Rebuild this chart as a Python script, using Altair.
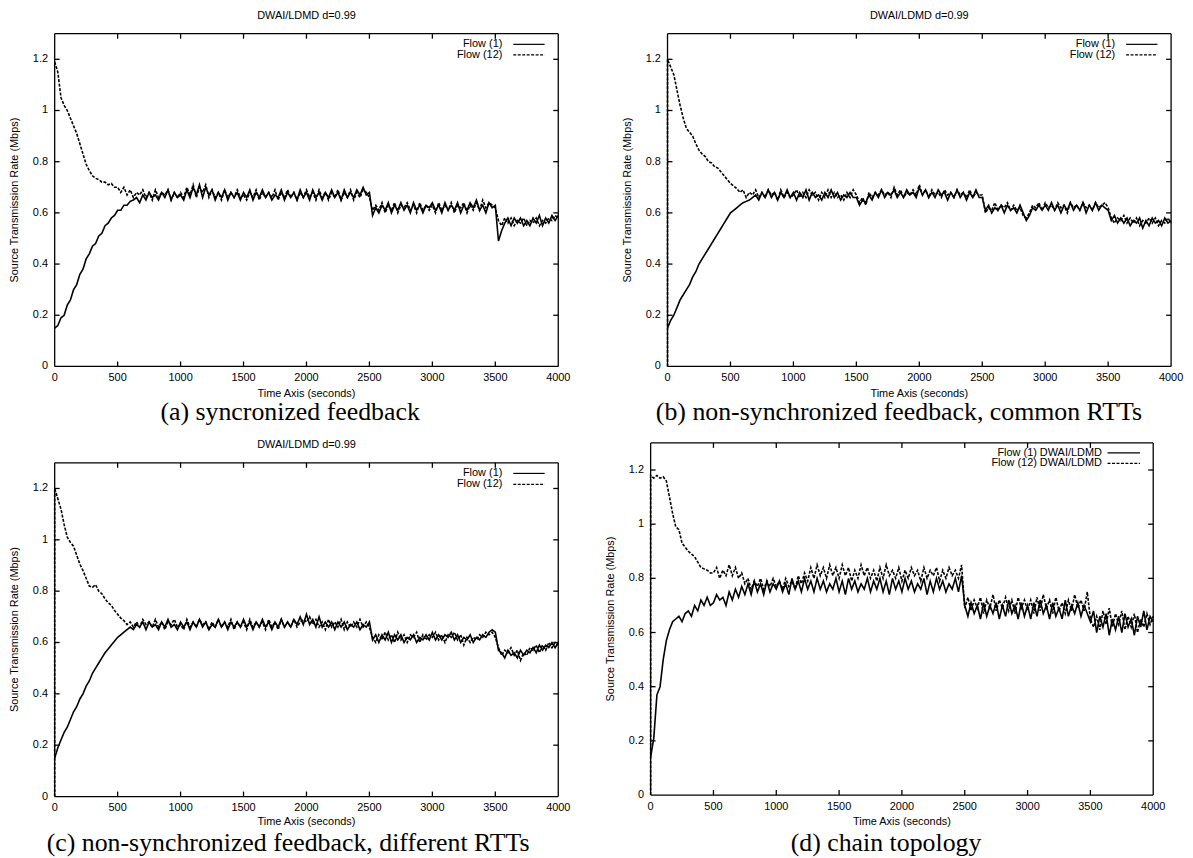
import altair as alt
import pandas as pd

# ---------------- data ----------------
T = list(range(0, 4001, 25))          # time axis samples (seconds)
X_TICKS = [0, 500, 1000, 1500, 2000, 2500, 3000, 3500, 4000]
X_TICK_LABELS = ["0", "500", "1000", "1500", "2000", "2500", "3000", "3500", "4000"]
Y_TICKS = [0, 0.2, 0.4, 0.6, 0.8, 1, 1.2]
Y_TICK_LABELS = ["0", "0.2", "0.4", "0.6", "0.8", "1", "1.2"]
X_MAX = 4000
Y_MAX = 1.3

# (a) syncronized feedback -- one row per 500 s
A_FLOW1 = [
    0.15, 0.16, 0.19, 0.20, 0.24, 0.26, 0.30, 0.32, 0.36, 0.38, 0.42, 0.44, 0.47, 0.48, 0.51, 0.52, 0.55, 0.56, 0.58, 0.59,
    0.61, 0.61, 0.63, 0.63, 0.645, 0.65, 0.66, 0.64, 0.67, 0.65, 0.68, 0.66, 0.67, 0.65, 0.68, 0.66, 0.69, 0.65, 0.68, 0.66,
    0.67, 0.65, 0.69, 0.66, 0.70, 0.67, 0.71, 0.66, 0.70, 0.67, 0.69, 0.65, 0.68, 0.66, 0.69, 0.65, 0.68, 0.66, 0.68, 0.65,
    0.68, 0.66, 0.69, 0.65, 0.68, 0.66, 0.69, 0.66, 0.68, 0.65, 0.67, 0.66, 0.69, 0.65, 0.68, 0.66, 0.68, 0.65, 0.69, 0.66,
    0.68, 0.65, 0.69, 0.66, 0.68, 0.65, 0.68, 0.66, 0.69, 0.66, 0.68, 0.65, 0.69, 0.66, 0.68, 0.66, 0.69, 0.67, 0.70, 0.67,
    0.68, 0.59, 0.62, 0.60, 0.63, 0.61, 0.64, 0.60, 0.63, 0.61, 0.64, 0.61, 0.63, 0.60, 0.64, 0.61, 0.63, 0.60, 0.63, 0.62,
    0.64, 0.61, 0.63, 0.60, 0.64, 0.61, 0.63, 0.61, 0.64, 0.60, 0.63, 0.61, 0.64, 0.62, 0.65, 0.61, 0.63, 0.60, 0.64, 0.62,
    0.63, 0.49, 0.53, 0.56, 0.58, 0.55, 0.58, 0.56, 0.58, 0.55, 0.57, 0.55, 0.58, 0.56, 0.59, 0.55, 0.58, 0.56, 0.59, 0.57,
    0.59]
A_FLOW12 = [
    1.19, 1.15, 1.05, 1.02, 1.00, 0.97, 0.94, 0.91, 0.87, 0.83, 0.79, 0.765, 0.745, 0.735, 0.73, 0.72, 0.72, 0.71, 0.715, 0.70,
    0.70, 0.68, 0.70, 0.67, 0.69, 0.66, 0.68, 0.67, 0.69, 0.66, 0.68, 0.65, 0.69, 0.66, 0.68, 0.67, 0.69, 0.65, 0.68, 0.66,
    0.68, 0.66, 0.70, 0.67, 0.71, 0.66, 0.70, 0.68, 0.71, 0.66, 0.69, 0.66, 0.68, 0.65, 0.69, 0.66, 0.68, 0.66, 0.69, 0.66,
    0.67, 0.65, 0.68, 0.66, 0.69, 0.65, 0.68, 0.66, 0.68, 0.66, 0.69, 0.65, 0.68, 0.66, 0.69, 0.66, 0.68, 0.65, 0.68, 0.66,
    0.69, 0.66, 0.68, 0.65, 0.69, 0.66, 0.68, 0.65, 0.68, 0.66, 0.69, 0.65, 0.68, 0.66, 0.69, 0.65, 0.68, 0.66, 0.69, 0.68,
    0.66, 0.61, 0.63, 0.61, 0.64, 0.60, 0.63, 0.61, 0.64, 0.60, 0.63, 0.62, 0.64, 0.61, 0.63, 0.60, 0.64, 0.61, 0.63, 0.61,
    0.63, 0.60, 0.64, 0.61, 0.63, 0.61, 0.64, 0.60, 0.63, 0.62, 0.64, 0.60, 0.63, 0.61, 0.64, 0.61, 0.65, 0.62, 0.64, 0.63,
    0.62, 0.57, 0.55, 0.58, 0.56, 0.58, 0.55, 0.57, 0.56, 0.58, 0.55, 0.57, 0.56, 0.58, 0.55, 0.57, 0.56, 0.58, 0.57, 0.59,
    0.58]

# (b) non-synchronized feedback, common RTTs
B_FLOW1 = [
    0.15, 0.18, 0.20, 0.23, 0.26, 0.28, 0.30, 0.32, 0.35, 0.37, 0.40, 0.42, 0.44, 0.46, 0.48, 0.50, 0.52, 0.54, 0.56, 0.58,
    0.60, 0.61, 0.62, 0.63, 0.64, 0.645, 0.65, 0.66, 0.67, 0.65, 0.68, 0.66, 0.69, 0.66, 0.68, 0.65, 0.68, 0.66, 0.69, 0.66,
    0.68, 0.65, 0.68, 0.66, 0.69, 0.65, 0.68, 0.66, 0.67, 0.65, 0.68, 0.66, 0.69, 0.66, 0.68, 0.65, 0.67, 0.66, 0.68, 0.66,
    0.66, 0.63, 0.65, 0.64, 0.67, 0.65, 0.68, 0.66, 0.69, 0.66, 0.68, 0.67, 0.69, 0.66, 0.68, 0.66, 0.69, 0.67, 0.68, 0.66,
    0.70, 0.67, 0.69, 0.66, 0.68, 0.66, 0.69, 0.67, 0.68, 0.65, 0.68, 0.66, 0.69, 0.66, 0.68, 0.65, 0.68, 0.66, 0.69, 0.66,
    0.66, 0.61, 0.63, 0.60, 0.62, 0.61, 0.63, 0.60, 0.63, 0.61, 0.62, 0.60, 0.63, 0.60, 0.57, 0.59, 0.62, 0.61, 0.63, 0.61,
    0.63, 0.61, 0.64, 0.61, 0.63, 0.60, 0.63, 0.61, 0.64, 0.61, 0.63, 0.61, 0.64, 0.60, 0.63, 0.61, 0.64, 0.61, 0.63, 0.62,
    0.61, 0.57, 0.59, 0.56, 0.58, 0.56, 0.58, 0.55, 0.57, 0.56, 0.58, 0.54, 0.57, 0.55, 0.58, 0.56, 0.57, 0.55, 0.58, 0.56,
    0.57]
B_FLOW12 = [
    1.20, 1.17, 1.14, 1.08, 1.02, 0.97, 0.93, 0.915, 0.90, 0.87, 0.845, 0.83, 0.82, 0.80, 0.795, 0.78, 0.775, 0.76, 0.745, 0.73,
    0.715, 0.705, 0.695, 0.68, 0.69, 0.66, 0.68, 0.67, 0.69, 0.66, 0.68, 0.66, 0.69, 0.67, 0.68, 0.65, 0.69, 0.66, 0.68, 0.66,
    0.67, 0.69, 0.66, 0.68, 0.66, 0.69, 0.67, 0.68, 0.65, 0.68, 0.66, 0.69, 0.66, 0.68, 0.66, 0.67, 0.65, 0.68, 0.66, 0.69,
    0.67, 0.64, 0.66, 0.63, 0.68, 0.66, 0.68, 0.67, 0.69, 0.67, 0.68, 0.66, 0.70, 0.67, 0.69, 0.66, 0.68, 0.67, 0.69, 0.67,
    0.71, 0.67, 0.69, 0.66, 0.69, 0.67, 0.68, 0.66, 0.69, 0.67, 0.68, 0.66, 0.69, 0.67, 0.68, 0.66, 0.69, 0.66, 0.68, 0.67,
    0.67, 0.60, 0.62, 0.61, 0.64, 0.61, 0.63, 0.62, 0.64, 0.61, 0.63, 0.61, 0.62, 0.59, 0.58, 0.60, 0.63, 0.62, 0.64, 0.61,
    0.64, 0.62, 0.63, 0.61, 0.64, 0.62, 0.63, 0.60, 0.64, 0.62, 0.63, 0.61, 0.64, 0.62, 0.63, 0.61, 0.64, 0.62, 0.63, 0.64,
    0.62, 0.58, 0.56, 0.58, 0.57, 0.59, 0.56, 0.58, 0.56, 0.58, 0.55, 0.57, 0.56, 0.58, 0.56, 0.58, 0.55, 0.57, 0.56, 0.58,
    0.56]

# (c) non-synchronized feedback, different RTTs
C_FLOW1 = [
    0.15, 0.19, 0.22, 0.25, 0.27, 0.30, 0.33, 0.35, 0.38, 0.40, 0.43, 0.45, 0.48, 0.50, 0.52, 0.54, 0.56, 0.575, 0.59, 0.605,
    0.62, 0.63, 0.64, 0.65, 0.66, 0.65, 0.67, 0.66, 0.68, 0.65, 0.68, 0.66, 0.67, 0.65, 0.68, 0.66, 0.69, 0.66, 0.67, 0.65,
    0.68, 0.66, 0.68, 0.65, 0.68, 0.66, 0.69, 0.66, 0.68, 0.65, 0.67, 0.66, 0.69, 0.66, 0.68, 0.65, 0.68, 0.66, 0.68, 0.66,
    0.69, 0.66, 0.68, 0.65, 0.68, 0.66, 0.69, 0.66, 0.68, 0.65, 0.68, 0.66, 0.69, 0.66, 0.68, 0.66, 0.69, 0.67, 0.70, 0.67,
    0.71, 0.67, 0.69, 0.66, 0.70, 0.66, 0.68, 0.66, 0.68, 0.65, 0.68, 0.66, 0.68, 0.65, 0.67, 0.66, 0.68, 0.65, 0.67, 0.66,
    0.68, 0.61, 0.63, 0.60, 0.63, 0.61, 0.64, 0.60, 0.63, 0.61, 0.63, 0.60, 0.62, 0.61, 0.63, 0.60, 0.62, 0.61, 0.63, 0.61,
    0.64, 0.61, 0.63, 0.61, 0.63, 0.62, 0.64, 0.61, 0.63, 0.60, 0.62, 0.61, 0.63, 0.60, 0.62, 0.61, 0.63, 0.62, 0.64, 0.65,
    0.64, 0.57, 0.56, 0.54, 0.57, 0.55, 0.56, 0.54, 0.57, 0.55, 0.57, 0.56, 0.58, 0.56, 0.59, 0.57, 0.59, 0.58, 0.60, 0.58,
    0.60]
C_FLOW12 = [
    1.20, 1.16, 1.12, 1.06, 1.01, 0.99, 0.975, 0.94, 0.905, 0.88, 0.85, 0.82, 0.815, 0.825, 0.80, 0.79, 0.77, 0.755, 0.745, 0.725,
    0.71, 0.695, 0.685, 0.67, 0.68, 0.66, 0.68, 0.66, 0.69, 0.67, 0.68, 0.66, 0.69, 0.66, 0.68, 0.65, 0.68, 0.67, 0.69, 0.66,
    0.67, 0.65, 0.69, 0.66, 0.68, 0.66, 0.69, 0.67, 0.68, 0.65, 0.68, 0.66, 0.69, 0.66, 0.68, 0.66, 0.69, 0.65, 0.68, 0.66,
    0.68, 0.65, 0.69, 0.66, 0.68, 0.66, 0.68, 0.65, 0.69, 0.66, 0.68, 0.65, 0.69, 0.66, 0.68, 0.66, 0.69, 0.66, 0.68, 0.69,
    0.68, 0.70, 0.67, 0.69, 0.66, 0.68, 0.65, 0.69, 0.66, 0.68, 0.66, 0.69, 0.65, 0.68, 0.66, 0.68, 0.66, 0.69, 0.66, 0.68,
    0.66, 0.62, 0.60, 0.63, 0.61, 0.64, 0.61, 0.63, 0.60, 0.64, 0.61, 0.63, 0.60, 0.63, 0.62, 0.64, 0.60, 0.63, 0.61, 0.63,
    0.62, 0.64, 0.61, 0.63, 0.60, 0.63, 0.62, 0.64, 0.61, 0.63, 0.59, 0.62, 0.60, 0.62, 0.61, 0.63, 0.62, 0.64, 0.63, 0.64,
    0.62, 0.58, 0.55, 0.57, 0.56, 0.58, 0.55, 0.57, 0.53, 0.56, 0.55, 0.58, 0.57, 0.59, 0.56, 0.59, 0.57, 0.60, 0.58, 0.60,
    0.59]

# (d) chain topology
D_FLOW1 = [
    0.14, 0.21, 0.37, 0.40, 0.50, 0.57, 0.61, 0.64, 0.65, 0.66, 0.64, 0.67, 0.68, 0.66, 0.70, 0.68, 0.72, 0.70, 0.73, 0.70,
    0.71, 0.74, 0.72, 0.73, 0.70, 0.75, 0.72, 0.76, 0.73, 0.77, 0.74, 0.78, 0.74, 0.79, 0.75, 0.78, 0.74, 0.79, 0.75, 0.78,
    0.76, 0.79, 0.75, 0.78, 0.74, 0.80, 0.76, 0.79, 0.75, 0.80, 0.76, 0.79, 0.75, 0.80, 0.76, 0.79, 0.75, 0.78, 0.76, 0.80,
    0.75, 0.79, 0.74, 0.80, 0.76, 0.79, 0.75, 0.78, 0.76, 0.80, 0.75, 0.79, 0.76, 0.80, 0.75, 0.79, 0.74, 0.80, 0.76, 0.79,
    0.75, 0.80, 0.76, 0.79, 0.75, 0.78, 0.76, 0.80, 0.74, 0.79, 0.75, 0.80, 0.76, 0.79, 0.75, 0.78, 0.76, 0.80, 0.75, 0.81,
    0.70, 0.66, 0.71, 0.67, 0.70, 0.65, 0.71, 0.66, 0.70, 0.67, 0.71, 0.65, 0.70, 0.66, 0.72, 0.67, 0.70, 0.65, 0.71, 0.66,
    0.70, 0.65, 0.71, 0.66, 0.72, 0.67, 0.70, 0.65, 0.71, 0.66, 0.69, 0.65, 0.72, 0.66, 0.70, 0.67, 0.71, 0.66, 0.70, 0.67,
    0.64, 0.68, 0.60, 0.66, 0.62, 0.67, 0.59, 0.65, 0.61, 0.66, 0.60, 0.67, 0.62, 0.65, 0.59, 0.66, 0.62, 0.68, 0.61, 0.66,
    0.64]
D_FLOW12 = [
    1.18, 1.17, 1.18, 1.17, 1.175, 1.16, 1.10, 1.04, 0.99, 0.98, 0.93, 0.915, 0.90, 0.89, 0.88, 0.86, 0.84, 0.835, 0.83, 0.82,
    0.82, 0.84, 0.80, 0.83, 0.81, 0.85, 0.81, 0.84, 0.80, 0.82, 0.78, 0.80, 0.76, 0.79, 0.77, 0.80, 0.76, 0.79, 0.77, 0.80,
    0.77, 0.79, 0.76, 0.80, 0.77, 0.79, 0.76, 0.81, 0.78, 0.82, 0.79, 0.84, 0.80, 0.85, 0.81, 0.84, 0.80, 0.85, 0.81, 0.84,
    0.80, 0.85, 0.81, 0.84, 0.79, 0.83, 0.80, 0.85, 0.81, 0.84, 0.80, 0.83, 0.79, 0.84, 0.80, 0.85, 0.81, 0.83, 0.80, 0.84,
    0.79, 0.83, 0.80, 0.84, 0.81, 0.83, 0.79, 0.84, 0.80, 0.83, 0.81, 0.84, 0.79, 0.83, 0.80, 0.84, 0.81, 0.83, 0.80, 0.85,
    0.69, 0.73, 0.68, 0.72, 0.69, 0.73, 0.67, 0.72, 0.69, 0.74, 0.68, 0.72, 0.69, 0.73, 0.68, 0.72, 0.67, 0.73, 0.69, 0.72,
    0.68, 0.72, 0.67, 0.73, 0.68, 0.74, 0.69, 0.72, 0.67, 0.73, 0.68, 0.71, 0.67, 0.72, 0.68, 0.74, 0.69, 0.72, 0.68, 0.75,
    0.65, 0.62, 0.66, 0.61, 0.68, 0.63, 0.69, 0.62, 0.67, 0.63, 0.68, 0.61, 0.66, 0.62, 0.67, 0.60, 0.65, 0.62, 0.67, 0.63,
    0.66]

for _s in (A_FLOW1, A_FLOW12, B_FLOW1, B_FLOW12, C_FLOW1, C_FLOW12, D_FLOW1, D_FLOW12):
    assert len(_s) == len(T), len(_s)

# ---------------- layout / style ----------------
W, H = 1185, 850
OFF = 8                      # page margin: image px -> view px
SANS = "Liberation Sans"
SERIF = "Liberation Serif"
FS = 11
TICK_PX = 5
LINE_W = 1.6
DASH = [3, 1.5]

PANELS = [
    dict(f1=A_FLOW1, f12=A_FLOW12, start0=False, x=(55, 562), y=(366, 31),
         title="DWAI/LDMD d=0.99", caption="(a) syncronized feedback",
         cap=(292, 419.5), leg=("Flow (1)", "Flow (12)"), leg_dx=(56.3, 45.3, 13.7),
         leg_dy=(10.7, 21.3), xlab_dy=11.5, xtitle_dy=27.5),
    dict(f1=B_FLOW1, f12=B_FLOW12, start0=True, x=(672, 1179), y=(366, 31),
         title="DWAI/LDMD d=0.99", caption="(b) non-synchronized feedback, common RTTs",
         cap=(905, 419.5), leg=("Flow (1)", "Flow (12)"), leg_dx=(56.3, 45.3, 13.7),
         leg_dy=(10.7, 21.3), xlab_dy=11.5, xtitle_dy=27.5),
    dict(f1=C_FLOW1, f12=C_FLOW12, start0=True, x=(55, 562), y=(799, 463),
         title="DWAI/LDMD d=0.99", caption="(c) non-synchronized feedback, different RTTs",
         cap=(290, 854), leg=("Flow (1)", "Flow (12)"), leg_dx=(56.3, 45.3, 13.7),
         leg_dy=(10.7, 21.8), xlab_dy=11.5, xtitle_dy=26),
    dict(f1=D_FLOW1, f12=D_FLOW12, start0=True, x=(655, 1161), y=(797.5, 443),
         title=None, caption="(d) chain topology",
         cap=(892, 854), leg=("Flow (1) DWAI/LDMD", "Flow (12) DWAI/LDMD"),
         leg_dx=(51.7, 46, 13.3), leg_dy=(10, 20.6), xlab_dy=12.5, xtitle_dy=27.5),
]


def one_row():
    return pd.DataFrame({"k": [0]})


def txt(s, x, y, size=FS, font=SANS, align="center", baseline="middle", angle=0):
    return alt.Chart(one_row()).mark_text(
        text=s, font=font, fontSize=size, align=align, baseline=baseline, color="black",
        angle=angle
    ).encode(x=alt.value(x - OFF), y=alt.value(y - OFF))


def hrule(xa, xb, y, dash=None):
    kw = dict(color="black", strokeWidth=1.2)
    if dash:
        kw["strokeDash"] = dash
    return alt.Chart(one_row()).mark_rule(**kw).encode(
        x=alt.value(xa - OFF), x2=alt.value(xb - OFF), y=alt.value(y - OFF))


def panel(p):
    x0, x1 = p["x"][0] - OFF, p["x"][1] - OFF
    yb, yt = p["y"][0] - OFF, p["y"][1] - OFF
    xs = alt.Scale(domain=[0, X_MAX], range=[x0, x1], nice=False, zero=False)
    ys = alt.Scale(domain=[0, Y_MAX], range=[yb, yt], nice=False, zero=False)

    # frame and inward ticks, in data units
    xt = TICK_PX * X_MAX / (x1 - x0)
    ytl = TICK_PX * Y_MAX / (yb - yt)
    rows = [(0, 0, X_MAX, 0), (0, Y_MAX, X_MAX, Y_MAX), (0, 0, 0, Y_MAX), (X_MAX, 0, X_MAX, Y_MAX)]
    for xv in X_TICKS[1:-1]:
        rows += [(xv, 0, xv, ytl), (xv, Y_MAX, xv, Y_MAX - ytl)]
    for yv in Y_TICKS[1:]:
        rows += [(0, yv, xt, yv), (X_MAX, yv, X_MAX - xt, yv)]
    fdf = pd.DataFrame(rows, columns=["t", "v", "t2", "v2"])
    frame = alt.Chart(fdf).mark_rule(color="black", strokeWidth=1.3).encode(
        x=alt.X("t:Q", scale=xs, axis=None), x2="t2:Q",
        y=alt.Y("v:Q", scale=ys, axis=None), y2="v2:Q")

    # tick labels placed through the scales
    xl = alt.Chart(pd.DataFrame({"t": X_TICKS, "lab": X_TICK_LABELS})).mark_text(
        font=SANS, fontSize=FS, color="black", baseline="middle", align="center"
    ).encode(x=alt.X("t:Q", scale=xs, axis=None), y=alt.value(yb + p["xlab_dy"]), text="lab:N")
    yl = alt.Chart(pd.DataFrame({"v": Y_TICKS, "lab": Y_TICK_LABELS})).mark_text(
        font=SANS, fontSize=FS, color="black", baseline="middle", align="right"
    ).encode(y=alt.Y("v:Q", scale=ys, axis=None), x=alt.value(x0 - 6.7), text="lab:N")

    d1 = pd.DataFrame({"t": T, "v": p["f1"], "i": range(len(T))})
    t12 = ([0] if p["start0"] else []) + T
    v12 = ([0.0] if p["start0"] else []) + p["f12"]
    d12 = pd.DataFrame({"t": t12, "v": v12, "i": range(len(t12))})
    l1 = alt.Chart(d1).mark_line(color="black", strokeWidth=LINE_W).encode(
        x=alt.X("t:Q", scale=xs, axis=None), y=alt.Y("v:Q", scale=ys, axis=None), order="i:Q")
    l12 = alt.Chart(d12).mark_line(color="black", strokeWidth=LINE_W, strokeDash=DASH).encode(
        x=alt.X("t:Q", scale=xs, axis=None), y=alt.Y("v:Q", scale=ys, axis=None), order="i:Q")
    return alt.layer(frame, xl, yl, l12, l1)


layers = []
for p in PANELS:
    layers.append(panel(p))
for p in PANELS:
    L, R = p["x"]
    B, Tp = p["y"]
    if p["title"]:
        layers.append(txt(p["title"], (L + R) / 2, Tp - 17.5))
    # axis titles
    layers.append(txt("Time Axis (seconds)", (L + R) / 2, B + p["xtitle_dy"]))
    layers.append(txt("Source Transmission Rate (Mbps)", L - 39.5, (B + Tp) / 2, angle=270))
    # legend
    dx_text, dx_a, dx_b = p["leg_dx"]
    for k, lab in enumerate(p["leg"]):
        yy = Tp + p["leg_dy"][k]
        layers.append(txt(lab, R - dx_text, yy, align="right"))
        layers.append(hrule(R - dx_a, R - dx_b, yy, dash=None if k == 0 else DASH))
    # caption
    layers.append(txt(p["caption"], p["cap"][0], p["cap"][1], size=26, font=SERIF,
                      baseline="alphabetic"))

chart = alt.layer(*layers).resolve_scale(x="independent", y="independent").properties(
    width=W, height=H, autosize=alt.AutoSizeParams(type="none"), padding=0
).configure_view(stroke=None)

chart.save("out.html", embed_options={"renderer": "svg", "actions": False})
